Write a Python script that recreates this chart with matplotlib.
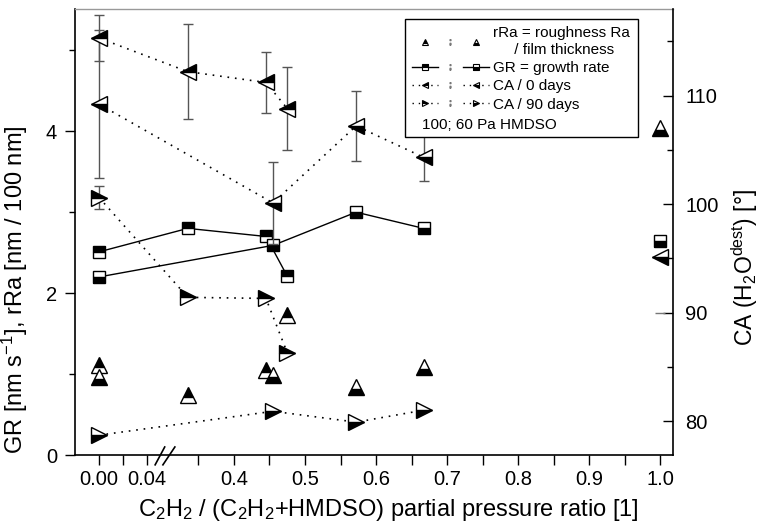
import numpy as np
import matplotlib
matplotlib.use("Agg")
from matplotlib import pyplot as plt
from matplotlib.lines import Line2D
from matplotlib.legend_handler import HandlerTuple

plt.rcParams["font.family"] = ["Liberation Sans", "DejaVu Sans"]
plt.rcParams["mathtext.fontset"] = "custom"
plt.rcParams["mathtext.rm"] = "Liberation Sans"
plt.rcParams["mathtext.it"] = "Liberation Sans"
plt.rcParams["mathtext.bf"] = "Liberation Sans:bold"

# 100 Pa HMDSO series (upper half filled)
x_a = [0.0, 0.335, 0.445, 0.475]
rra_a = [1.11, 0.74, 1.05, 1.73]
gr_a = [2.51, 2.80, 2.70, 2.21]
ca0_a = [115.3, 112.2, 111.2, 108.8]
ca0_a_err = [2.1, 4.4, 2.85, 3.8]
ca90_a = [100.6, 91.4, 91.3, 86.3]
ca90_a_err = [1.06, 0.0, 0.0, 0.0]

# 60 Pa HMDSO series (lower half filled)
x_b = [0.0, 0.455, 0.572, 0.667]
rra_b = [0.96, 0.99, 0.84, 1.09]
gr_b = [2.20, 2.59, 3.00, 2.80]
ca0_b = [109.2, 100.1, 107.2, 104.3]
ca0_b_err = [6.8, 3.8, 3.2, 2.2]
ca90_b = [78.7, 80.9, 79.9, 81.0]

# pure C2H2
x_pure = [1.0]
rra_pure = [4.04]
gr_pure = [2.65]
ca0_pure = [95.1]
ca90_pure = [90.0]

xticks = [0.0, 0.04, 0.4, 0.5, 0.6, 0.7, 0.8, 0.9, 1.0]
xticklabels = ["0.00", "0.04", "0.4", "0.5", "0.6", "0.7", "0.8", "0.9", "1.0"]
xminor = [0.02, 0.35, 0.45, 0.55, 0.65, 0.75, 0.85, 0.95]

# broken x axis: 0..0.055 stretched, 0.304..1 normal
B1, B2, K1, EPS = 0.055, 0.304, 1200 / 710, 1e-3
xp = np.array([-10.0, B1, B2, 10.0])
up = np.array([-10.0 * K1, B1 * K1, B1 * K1 + EPS, B1 * K1 + EPS + 10.0 - B2])


def fwd(x):
    return np.interp(x, xp, up)


def inv(u):
    return np.interp(u, up, xp)


fig = plt.figure(figsize=(7.6, 5.31), dpi=100)
ax = fig.add_axes([0.0987, 0.1431, 0.7868, 0.8399])
ax2 = ax.twinx()
ax.set_xscale("function", functions=(fwd, inv))
ax.set_xlim(-0.02, 1.018)
ax.set_ylim(0, 5.51)
ax2.set_ylim(76.87, 117.97)

mk = dict(markeredgecolor="black", markerfacecolor="black",
          markerfacecoloralt="white", markeredgewidth=1.0)
A = dict(fillstyle="top", **mk)
B = dict(fillstyle="bottom", **mk)
dot = (0, (1, 3.5))
ecol = "#555555"

# rRa
ax.plot(x_a, rra_a, ls="none", marker="^", ms=12, **A)
ax.plot(x_b + x_pure, rra_b + rra_pure, ls="none", marker="^", ms=12, **B)
# GR
ax.plot(x_a, gr_a, color="black", lw=1, marker="s", ms=9, **A)
ax.plot(x_b, gr_b, color="black", lw=1, marker="s", ms=9, **B)
ax.plot(x_pure, gr_pure, ls="none", marker="s", ms=9, **B)

# CA
ax2.errorbar(x_a, ca0_a, yerr=ca0_a_err, fmt="none", ecolor=ecol, elinewidth=1, capsize=3.5)
ax2.errorbar(x_b, ca0_b, yerr=ca0_b_err, fmt="none", ecolor=ecol, elinewidth=1, capsize=3.5)
ax2.errorbar(x_a[:1], ca90_a[:1], yerr=ca90_a_err[:1], fmt="none", ecolor=ecol, elinewidth=1, capsize=3.5)
ax2.plot(x_pure, ca90_pure, ls="none", marker="_", ms=7, color="#777777")
ax2.plot(x_a, ca0_a, color="black", lw=1.2, ls=dot, marker="<", ms=12, **A)
ax2.plot(x_b, ca0_b, color="black", lw=1.2, ls=dot, marker="<", ms=12, **B)
ax2.plot(x_pure, ca0_pure, ls="none", marker="<", ms=12, **B)
ax2.plot(x_a, ca90_a, color="black", lw=1.2, ls=dot, marker=">", ms=12, **A)
ax2.plot(x_b, ca90_b, color="black", lw=1.2, ls=dot, marker=">", ms=12, **B)

# axes styling
ax.set_xticks(xticks)
ax.set_xticklabels(xticklabels)
ax.set_xticks(xminor, minor=True)
ax.set_yticks([0, 2, 4])
ax.set_yticks([1, 3, 5], minor=True)
ax2.set_yticks([80, 90, 100, 110])
ax2.set_yticks([85, 95, 105, 115], minor=True)

ax.tick_params(axis="both", which="major", direction="out", length=7, width=1, labelsize=14.5, pad=4)
ax.tick_params(axis="y", which="major", pad=6)
ax.tick_params(axis="x", which="minor", direction="out", length=7, width=1)
ax.tick_params(axis="y", which="minor", direction="out", length=4, width=1)
ax.tick_params(top=False, right=False)
ax2.tick_params(axis="y", which="major", direction="in", length=7, width=1, labelsize=14.5, pad=9)
ax2.tick_params(axis="y", which="minor", direction="in", length=4, width=1)

for s in ["left", "bottom"]:
    ax.spines[s].set_linewidth(1.2)
ax.spines["right"].set_visible(False)
ax.spines["top"].set_color("#999999")
ax.spines["top"].set_linewidth(1)
for s in ["left", "bottom", "top"]:
    ax2.spines[s].set_visible(False)
ax2.spines["right"].set_linewidth(1.2)

ax.set_xlabel("C$_2$H$_2$ / (C$_2$H$_2$+HMDSO) partial pressure ratio [1]", fontsize=17)
ax.set_ylabel("GR [nm s$^{-1}$], rRa [nm / 100 nm]", fontsize=17)
ax2.set_ylabel(r"CA (H$_2$O$^{\mathrm{dest}}$) [°]", fontsize=16.5)
ax.xaxis.set_label_coords(0.524, -0.095)
ax.yaxis.set_label_coords(-0.075, 0.37)
ax2.yaxis.set_label_coords(1.095, 0.42)

# axis break marks
for x0, x1 in [(0.134, 0.150), (0.147, 0.167)]:
    ax.plot([x0, x1], [-0.022, 0.018], transform=ax.transAxes, color="black",
            lw=1.2, clip_on=False)

# legend
sm = dict(markeredgecolor="black", markerfacecolor="black",
          markerfacecoloralt="white", markeredgewidth=0.8)
sep = Line2D([], [], ls="none", marker="$;$", ms=4, color="#777777")
rows = [
    ("^", "none", "rRa = roughness Ra\n     / film thickness"),
    ("s", "-", "GR = growth rate"),
    ("<", dot, "CA / 0 days"),
    (">", dot, "CA / 90 days"),
]
handles, labels = [], []
for m, ls, lab in rows:
    ha = Line2D([], [], color="black", lw=1, ls=ls, marker=m, ms=5, fillstyle="top", **sm)
    hb = Line2D([], [], color="black", lw=1, ls=ls, marker=m, ms=5, fillstyle="bottom", **sm)
    handles.append((ha, sep, hb))
    labels.append(lab)
handles.append(Line2D([], [], ls="none"))
labels.append(" ")
leg = ax2.legend(handles, labels, loc="upper right", bbox_to_anchor=(0.941, 0.978),
                 fontsize=11, handlelength=5.0, handletextpad=0.3, labelspacing=0.28,
                 borderpad=0.5, borderaxespad=0, fancybox=False, framealpha=1,
                 edgecolor="black", handler_map={tuple: HandlerTuple(ndivide=None, pad=0)})
leg.get_frame().set_linewidth(1)
leg.set_zorder(5)
ax2.text(0.58, 0.74, "100; 60 Pa HMDSO", transform=ax.transAxes, fontsize=11,
         va="center", ha="left", zorder=10)

fig.savefig("out.png", dpi=100)
